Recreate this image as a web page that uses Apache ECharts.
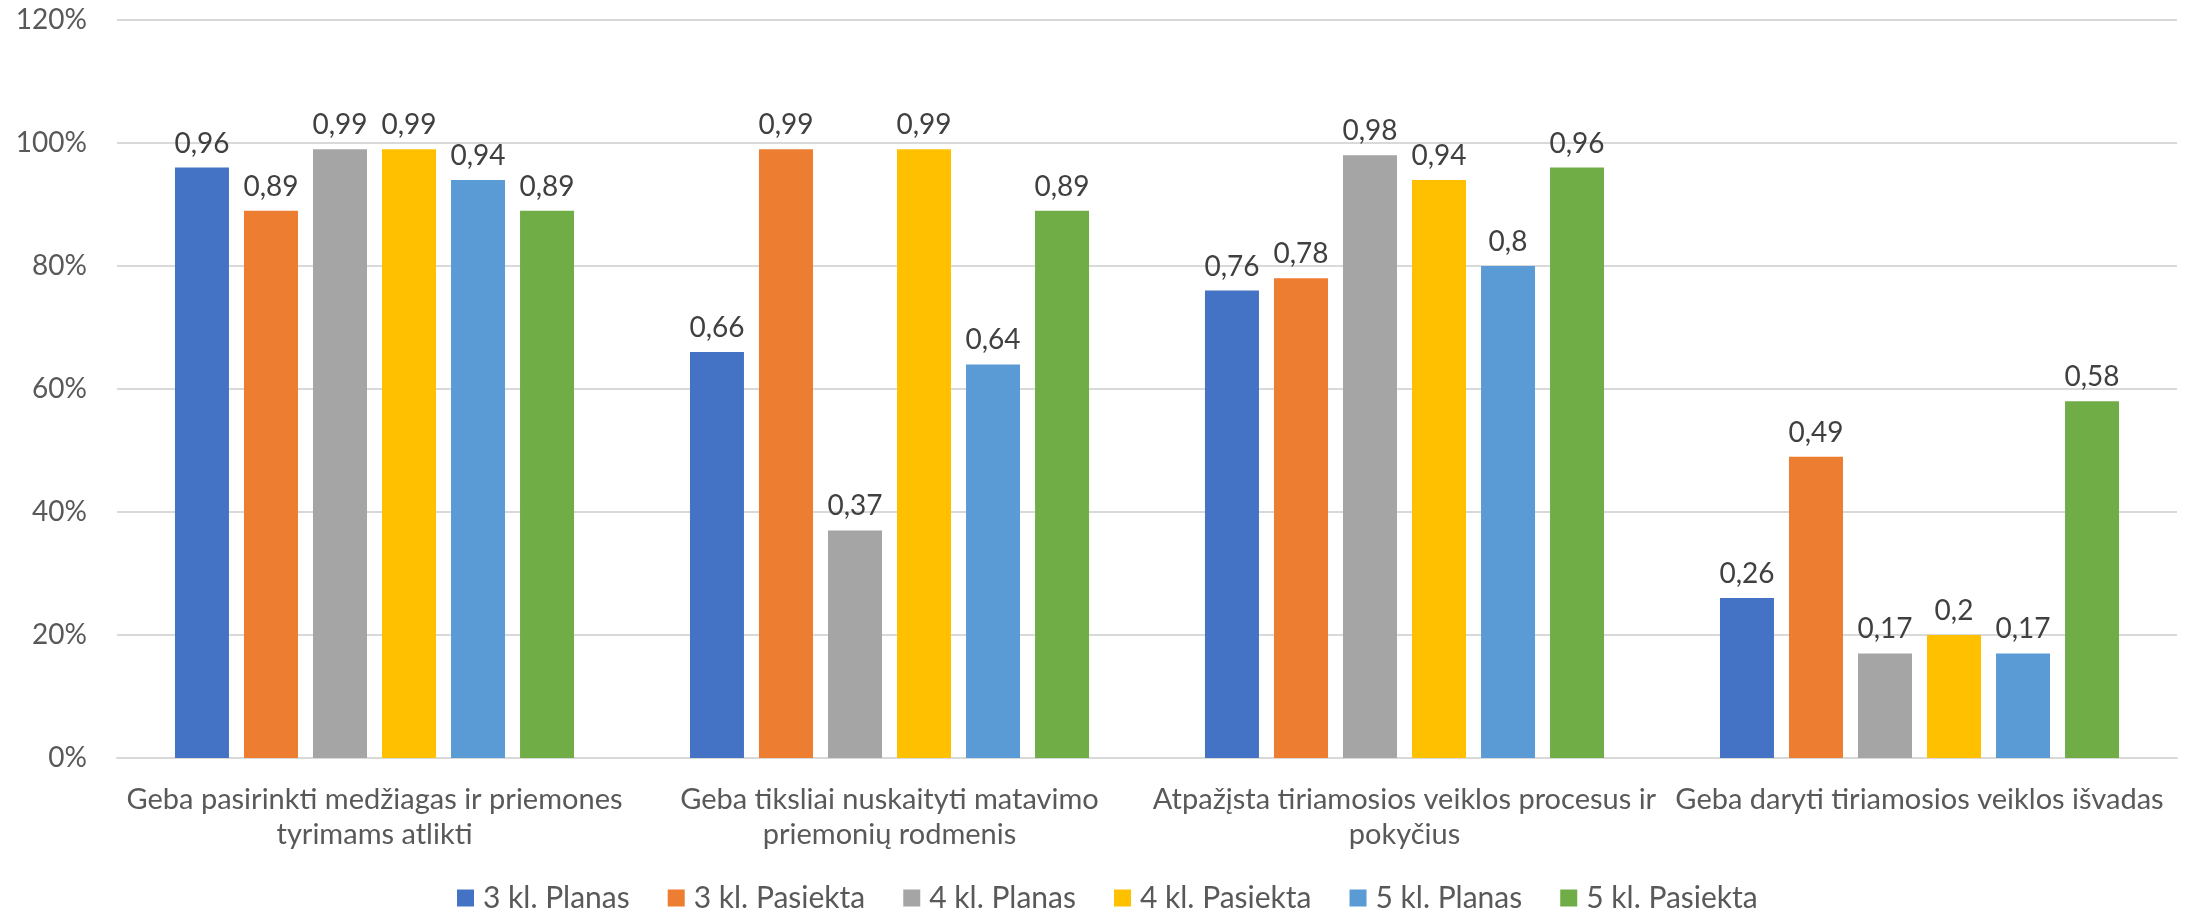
<!DOCTYPE html>
<html>
<head>
<meta charset="utf-8">
<script src="https://cdn.jsdelivr.net/npm/echarts@6/dist/echarts.min.js"></script>
<style>
  html, body { margin: 0; padding: 0; background: #ffffff; }
  #chart { width: 2190px; height: 916px; }
</style>
</head>
<body>
<div id="chart"></div>
<script>
const categories = [
  'Geba pasirinkti medžiagas ir priemones\ntyrimams atlikti',
  'Geba tiksliai nuskaityti matavimo\npriemonių rodmenis',
  'Atpažįsta tiriamosios veiklos procesus ir\npokyčius',
  'Geba daryti tiriamosios veiklos išvadas'
];
const seriesNames = ['3 kl. Planas', '3 kl. Pasiekta', '4 kl. Planas', '4 kl. Pasiekta', '5 kl. Planas', '5 kl. Pasiekta'];
const kl3Planas   = [0.96, 0.66, 0.76, 0.26];
const kl3Pasiekta = [0.89, 0.99, 0.78, 0.49];
const kl4Planas   = [0.99, 0.37, 0.98, 0.17];
const kl4Pasiekta = [0.99, 0.99, 0.94, 0.20];
const kl5Planas   = [0.94, 0.64, 0.80, 0.17];
const kl5Pasiekta = [0.89, 0.89, 0.96, 0.58];
const yTicks = { min: 0, max: 1.2, interval: 0.2 };

const seriesData = [kl3Planas, kl3Pasiekta, kl4Planas, kl4Pasiekta, kl5Planas, kl5Pasiekta];
const colors = ['#4472C4', '#ED7D31', '#A5A5A5', '#FFC000', '#5B9BD5', '#70AD47'];
const FONT = 'Lato';

const chart = echarts.init(document.getElementById('chart'), null, { renderer: 'canvas' });
chart.setOption({
  animation: false,
  backgroundColor: '#ffffff',
  color: colors,
  grid: { left: 117, right: 13, top: 20, bottom: 158, containLabel: false },
  legend: {
    data: seriesNames,
    left: 457,
    top: 881,
    padding: 0,
    icon: 'rect',
    itemWidth: 17,
    itemHeight: 17,
    itemGap: 38,
    textStyle: { fontFamily: FONT, fontSize: 30, color: '#595959', padding: [0, 0, 0, 4], lineHeight: 34 }
  },
  xAxis: {
    type: 'category',
    data: categories,
    axisLine: { show: true, lineStyle: { color: '#d9d9d9', width: 2 } },
    axisTick: { show: false },
    axisLabel: {
      interval: 0,
      fontFamily: FONT,
      fontSize: 29,
      lineHeight: 35,
      color: '#595959',
      margin: 24
    }
  },
  yAxis: {
    type: 'value',
    min: yTicks.min,
    max: yTicks.max,
    interval: yTicks.interval,
    axisLine: { show: false },
    axisTick: { show: false },
    splitLine: { show: true, lineStyle: { color: '#d9d9d9', width: 2 } },
    axisLabel: {
      fontFamily: FONT,
      fontSize: 28,
      color: '#595959',
      margin: 30,
      formatter: v => Math.round(v * 100) + '%'
    }
  },
  series: seriesNames.map((name, i) => ({
    name: name,
    type: 'bar',
    data: seriesData[i],
    barWidth: 54,
    barGap: '27.8%',
    itemStyle: { color: colors[i] },
    label: {
      show: true,
      position: 'top',
      distance: 10,
      fontFamily: FONT,
      fontSize: 28,
      color: '#404040',
      formatter: p => String(p.value).replace('.', ',')
    }
  }))
});
</script>
</body>
</html>
